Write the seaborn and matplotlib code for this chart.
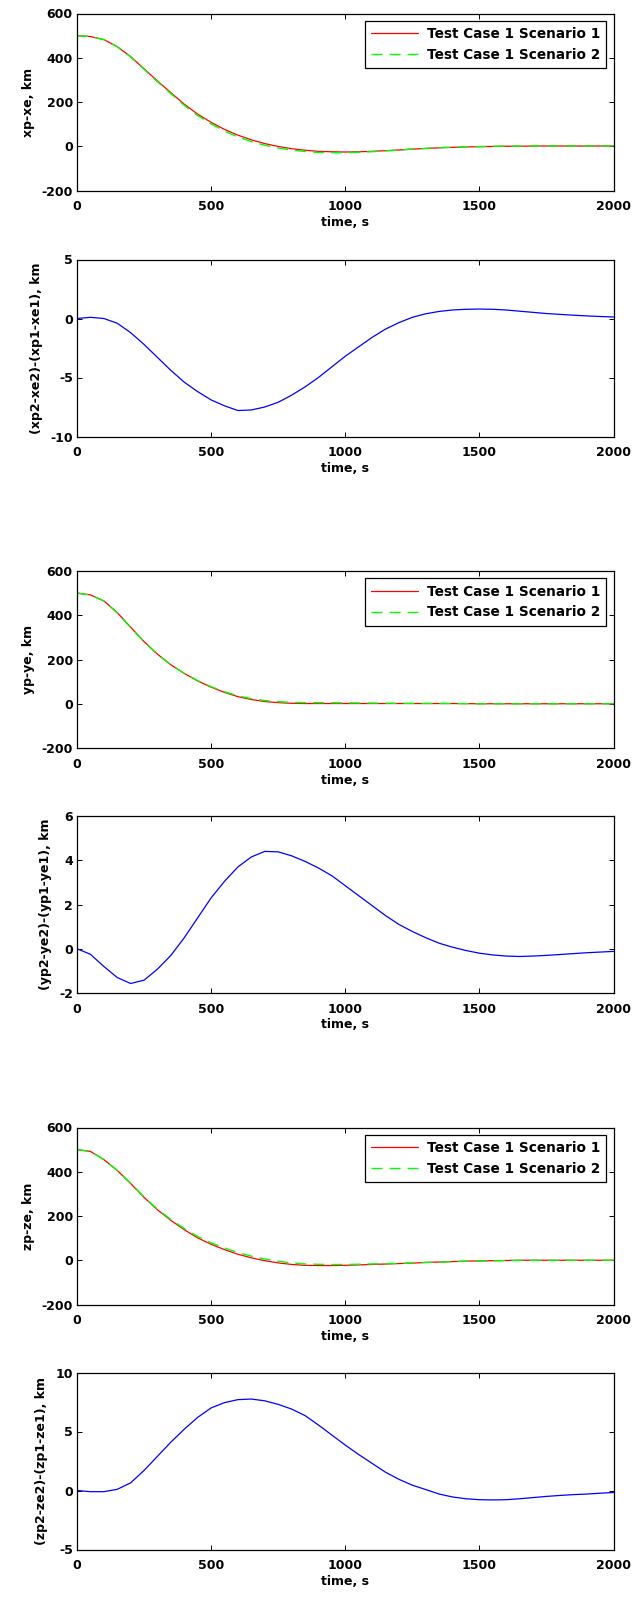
import numpy as np
import seaborn as sns
import matplotlib
matplotlib.use("Agg")
import matplotlib.pyplot as plt

# ---------------------------------------------------------------------------
# data read off the reference (sampled every 50 s)
# ---------------------------------------------------------------------------
time_s = np.arange(0, 2001, 50)

# x channel: relative position, scenario 1 / scenario 2, and their difference
xp_s1 = [500, 496, 482, 450, 405, 350, 295, 242, 190, 145,
         108, 76, 50, 29, 12, -1, -11, -18, -23, -25,
         -26, -25, -23, -20, -17, -13, -10, -7, -5, -3,
         -2, -1, 0, 0, 1, 1, 1, 1, 1, 1, 1]
xp_s2 = [500, 496.1, 482, 449.6, 403.8, 347.8, 291.7, 237.6, 184.6, 138.8,
         101.1, 68.6, 42.2, 21.3, 4.5, -8.1, -17.5, -23.8, -28, -29.1,
         -29.2, -27.4, -24.6, -20.9, -17.4, -12.9, -9.6, -6.4, -4.3, -2.2,
         -1.2, -0.2, 0.7, 0.6, 1.5, 1.4, 1.35, 1.3, 1.2, 1.2, 1.1]
dx = [0.0, 0.1, 0.0, -0.4, -1.2, -2.2, -3.3, -4.4, -5.4, -6.2,
      -6.9, -7.4, -7.8, -7.75, -7.5, -7.1, -6.5, -5.8, -5.0, -4.1,
      -3.2, -2.4, -1.6, -0.9, -0.35, 0.1, 0.4, 0.6, 0.72, 0.78,
      0.8, 0.78, 0.72, 0.62, 0.52, 0.42, 0.35, 0.28, 0.22, 0.17, 0.13]

# y channel
yp_s1 = [500, 492, 465, 412, 346, 281, 224, 176, 137, 103,
         75, 51, 32, 19, 10, 5, 2, 1, 1, 1,
         1, 1, 1, 1, 1, 1, 1, 1, 1, 0.5,
         0, 0, 0, 0, 0, 0, 0, 0, 0, 0, 0]
yp_s2 = [500, 491.8, 464.3, 410.7, 344.5, 279.6, 223.1, 175.7, 137.5, 104.4,
         77.3, 54.1, 35.7, 23.2, 14.4, 9.4, 6.2, 5, 4.7, 4.3,
         3.9, 3.4, 3, 2.5, 2.1, 1.8, 1.5, 1.3, 1.1, 0.4,
         -0.2, -0.3, -0.3, -0.4, -0.3, -0.3, -0.3, -0.2, -0.2, -0.2, -0.1]
dy = [0.0, -0.25, -0.8, -1.3, -1.57, -1.42, -0.92, -0.3, 0.5, 1.4,
      2.3, 3.05, 3.7, 4.15, 4.4, 4.38, 4.2, 3.95, 3.65, 3.3,
      2.85, 2.4, 1.95, 1.5, 1.1, 0.78, 0.5, 0.25, 0.07, -0.08,
      -0.2, -0.28, -0.33, -0.35, -0.33, -0.3, -0.26, -0.22, -0.18, -0.15, -0.12]

# z channel
zp_s1 = [500, 492, 455, 406, 347, 284, 228, 180, 138, 101,
         72, 48, 27, 11, -2, -12, -19, -23, -24, -24,
         -23, -21, -19, -17, -15, -13, -10, -8, -6, -4,
         -3, -2, -1, 0, 0, 0, 0, 0, 0, 0, 0]
zp_s2 = [500, 491.9, 454.9, 406.1, 347.7, 285.7, 230.9, 184.1, 143.2, 107.2,
         79, 55.5, 34.7, 18.8, 5.6, -4.7, -12.1, -16.7, -18.4, -19.3,
         -19.2, -18, -16.7, -15.5, -14.1, -12.6, -9.9, -8.3, -6.6, -4.7,
         -3.8, -2.8, -1.8, -0.7, -0.6, -0.5, -0.4, -0.35, -0.3, -0.2, -0.2]
dz = [0, -0.1, -0.1, 0.1, 0.65, 1.7, 2.9, 4.1, 5.2, 6.2,
      7.0, 7.45, 7.7, 7.75, 7.6, 7.3, 6.9, 6.35, 5.55, 4.7,
      3.85, 3.05, 2.3, 1.55, 0.95, 0.45, 0.08, -0.3, -0.55, -0.7,
      -0.78, -0.8, -0.78, -0.7, -0.6, -0.5, -0.42, -0.35, -0.3, -0.23, -0.17]

label_s1 = "Test Case 1 Scenario 1"
label_s2 = "Test Case 1 Scenario 2"

# ---------------------------------------------------------------------------
# style: MATLAB-ish boxed axes with inward ticks
# ---------------------------------------------------------------------------
sns.set_theme(style="ticks")
plt.rcParams["font.family"] = ["DejaVu Sans"]
plt.rcParams["font.weight"] = "bold"
plt.rcParams["axes.labelweight"] = "bold"
plt.rcParams["font.size"] = 9
plt.rcParams["axes.unicode_minus"] = False
plt.rcParams["text.color"] = "black"
plt.rcParams["axes.labelcolor"] = "black"
plt.rcParams["xtick.color"] = "black"
plt.rcParams["ytick.color"] = "black"

W, H = 635, 1597
fig = plt.figure(figsize=(W / 100, H / 100), dpi=100)
fig.patch.set_facecolor("white")

left_px, right_px, h_px = 77, 613.5, 177
tops_px = [13.5, 259.5, 571, 816, 1127.5, 1372.5]


def make_ax(top):
    return fig.add_axes([left_px / W, (H - top - h_px) / H,
                         (right_px - left_px) / W, h_px / H])


def style_ax(ax, ylim, yticks, ylabel):
    ax.set_xlim(0, 2000)
    ax.set_ylim(*ylim)
    ax.set_xticks([0, 500, 1000, 1500, 2000])
    ax.set_yticks(yticks)
    ax.set_facecolor("white")
    for sp in ax.spines.values():
        sp.set_visible(True)
        sp.set_color("black")
        sp.set_linewidth(0.9)
    ax.tick_params(axis="both", direction="in", length=3.5, width=0.7,
                   top=True, right=True, colors="black", labelsize=9)
    ax.tick_params(axis="x", pad=7)
    ax.tick_params(axis="y", pad=3)
    ax.set_xlabel("time, s", fontsize=9, fontweight="bold", labelpad=2,
                  color="black")
    ax.set_ylabel(ylabel, fontsize=9, fontweight="bold", labelpad=5,
                  color="black")
    ax.grid(False)


panels = [
    (xp_s1, xp_s2, dx, "xp-xe, km", "(xp2-xe2)-(xp1-xe1), km",
     (-10, 5), [-10, -5, 0, 5]),
    (yp_s1, yp_s2, dy, "yp-ye, km", "(yp2-ye2)-(yp1-ye1), km",
     (-2, 6), [-2, 0, 2, 4, 6]),
    (zp_s1, zp_s2, dz, "zp-ze, km", "(zp2-ze2)-(zp1-ze1), km",
     (-5, 10), [-5, 0, 5, 10]),
]

for i, (s1, s2, diff, lab_top, lab_bot, dlim, dticks) in enumerate(panels):
    ax1 = make_ax(tops_px[2 * i])
    sns.lineplot(x=time_s, y=s1, ax=ax1, color="#ff0000", linewidth=0.9,
                 label=label_s1)
    sns.lineplot(x=time_s, y=s2, ax=ax1, color="#00ff00", linewidth=1.0,
                 linestyle=(0, (8, 5)), label=label_s2)
    style_ax(ax1, (-200, 600), [-200, 0, 200, 400, 600], lab_top)
    leg = ax1.legend(loc="upper right", fontsize=9.8, frameon=True,
                     fancybox=False, framealpha=1, edgecolor="black",
                     borderaxespad=0.55, borderpad=0.45, labelspacing=0.5,
                     handlelength=3.5, handletextpad=0.6)
    leg.get_frame().set_linewidth(0.9)
    for t in leg.get_texts():
        t.set_fontweight("bold")
        t.set_color("black")

    ax2 = make_ax(tops_px[2 * i + 1])
    sns.lineplot(x=time_s, y=diff, ax=ax2, color="#0000ff", linewidth=0.9)
    style_ax(ax2, dlim, dticks, lab_bot)

fig.savefig("out.png", dpi=100, facecolor="white")
